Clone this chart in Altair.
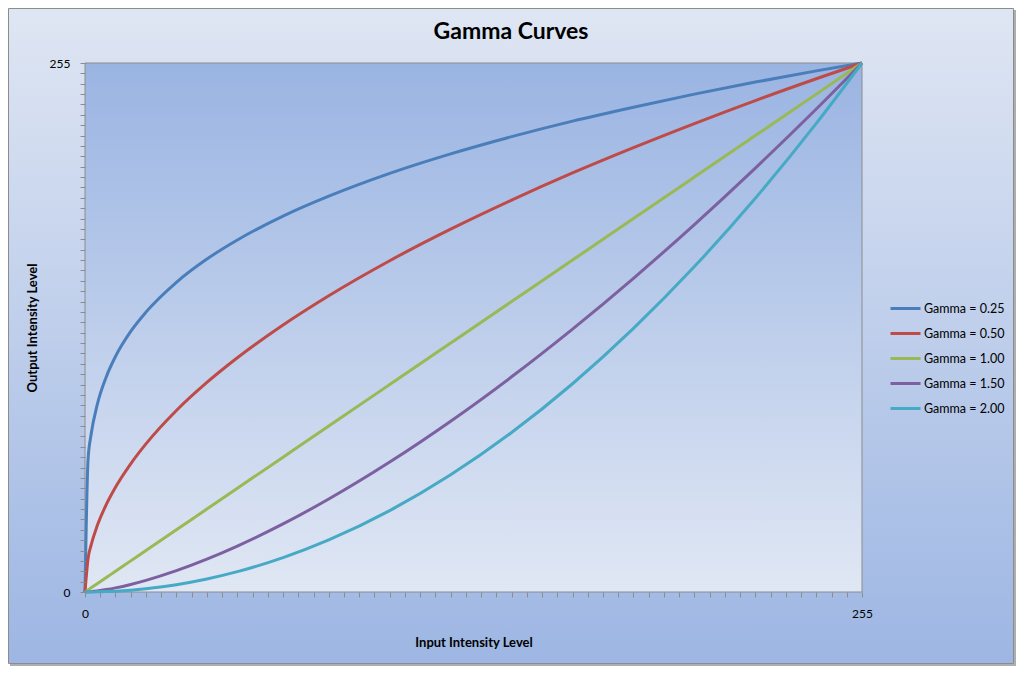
import altair as alt
import pandas as pd

# ---- data ----
X = [0, 1, 2, 4, 7, 10, 15, 20, 30, 40, 50, 65, 80, 100, 120, 140, 160, 180, 200, 220, 240, 255]
G025 = [0, 63.8, 75.9, 90.2, 103.8, 113.5, 125.6, 134.9, 149.3, 160.5, 169.7, 181.2, 190.8,
        201.8, 211.2, 219.5, 227.0, 233.7, 240.0, 245.8, 251.2, 255]
G050 = [0, 16.0, 22.6, 31.9, 42.2, 50.5, 61.8, 71.4, 87.5, 101.0, 112.9, 128.7, 142.8,
        159.7, 174.9, 188.9, 202.0, 214.2, 225.8, 236.9, 247.4, 255]
G100 = [0, 1, 2, 4, 7, 10, 15, 20, 30, 40, 50, 65, 80, 100, 120, 140, 160, 180, 200, 220, 240, 255]
G150 = [0, 0.06, 0.18, 0.50, 1.16, 1.98, 3.64, 5.60, 10.29, 15.84, 22.14, 32.82, 44.81,
        62.62, 82.32, 103.73, 126.74, 151.23, 177.12, 204.34, 232.83, 255]
G200 = [0, 0.004, 0.016, 0.063, 0.19, 0.39, 0.88, 1.57, 3.53, 6.27, 9.80, 16.57, 25.10,
        39.22, 56.47, 76.86, 100.39, 127.06, 156.86, 189.80, 225.88, 255]

SERIES = ["Gamma = 0.25", "Gamma = 0.50", "Gamma = 1.00", "Gamma = 1.50", "Gamma = 2.00"]
COLORS = ["#4a7ebb", "#be4b48", "#98b954", "#7d60a0", "#46aac5"]
TICKS = list(range(0, 256, 5))
TITLE = "Gamma Curves"
X_TITLE = "Input Intensity Level"
Y_TITLE = "Output Intensity Level"

rows = []
for name, ys in zip(SERIES, [G025, G050, G100, G150, G200]):
    for xv, yv in zip(X, ys):
        rows.append({"series": name, "x": xv, "y": yv})
df = pd.DataFrame(rows)

W, H = 777, 529
FONT = "Lato"

bg_grad = alt.LinearGradient(
    gradient="linear", x1=0, y1=0, x2=0, y2=1,
    stops=[alt.GradientStop(offset=0, color="#dfe6f3"),
           alt.GradientStop(offset=1, color="#9db6e3")])
plot_grad = alt.LinearGradient(
    gradient="linear", x1=0, y1=0, x2=0, y2=1,
    stops=[alt.GradientStop(offset=0, color="#9ab4e2"),
           alt.GradientStop(offset=1, color="#e0e7f4")])

one = pd.DataFrame({"k": [0]})

shadow = alt.Chart(one).mark_rect(fill="#9a9a9a", opacity=0.8).encode(
    x=alt.value(-75), x2=alt.value(931), y=alt.value(-53), y2=alt.value(603))
frame = alt.Chart(one).mark_rect(fill=bg_grad, stroke="#8c8c8c", strokeWidth=1).encode(
    x=alt.value(-76.5), x2=alt.value(928.5), y=alt.value(-54.5), y2=alt.value(600.5))
plotbg = alt.Chart(one).mark_rect(fill=plot_grad, stroke="#8c8c8c", strokeWidth=1).encode(
    x=alt.value(0), x2=alt.value(W), y=alt.value(0), y2=alt.value(H))

title = alt.Chart(pd.DataFrame({"t": [TITLE]})).mark_text(
    font=FONT, fontSize=23, fontWeight="bold", align="center", baseline="middle", color="#000000"
).encode(x=alt.value(426), y=alt.value(-31), text="t:N")

label_expr = "datum.value == 0 || datum.value == 255 ? datum.label : ''"

lines = alt.Chart(df).mark_line(strokeWidth=3, interpolate="monotone").encode(
    x=alt.X("x:Q", scale=alt.Scale(domain=[0, 255], nice=False, zero=True),
            axis=alt.Axis(values=TICKS, labelExpr=label_expr, grid=False, domain=False,
                          tickColor="#8c8c8c", tickSize=5, labelFont=FONT, labelFontSize=12,
                          labelColor="#000000", labelPadding=11, labelOverlap=False,
                          labelFlush=False, title=X_TITLE, titleFont=FONT, titleFontSize=13,
                          titleFontWeight="bold", titleColor="#000000", titleY=50,
                          titleBaseline="middle", zindex=1)),
    y=alt.Y("y:Q", scale=alt.Scale(domain=[0, 255], nice=False, zero=True),
            axis=alt.Axis(values=TICKS, labelExpr=label_expr, grid=False, domain=False,
                          tickColor="#8c8c8c", tickSize=5, labelFont=FONT, labelFontSize=12,
                          labelColor="#000000", labelPadding=10, labelOverlap=False,
                          labelFlush=False, title=Y_TITLE, titleFont=FONT, titleFontSize=13,
                          titleFontWeight="bold", titleColor="#000000", titleX=-53,
                          titleBaseline="middle", zindex=1)),
    color=alt.Color("series:N", scale=alt.Scale(domain=SERIES, range=COLORS),
                    legend=alt.Legend(orient="none", legendX=804, legendY=229, title=None,
                                      symbolType="stroke", symbolStrokeWidth=3, symbolSize=900,
                                      labelFont=FONT, labelFontSize=12.5, labelColor="#000000",
                                      labelOffset=2, rowPadding=2)),
    order=alt.Order("series:N"),
)

chart = alt.layer(shadow, frame, plotbg, title, lines).properties(
    width=W, height=H,
    autosize=alt.AutoSizeParams(type="none"),
    padding={"left": 77, "top": 55, "right": 154, "bottom": 74},
    background="white",
).configure_view(stroke=None)

chart.save("out.html", embed_options={"renderer": "svg", "actions": False})
